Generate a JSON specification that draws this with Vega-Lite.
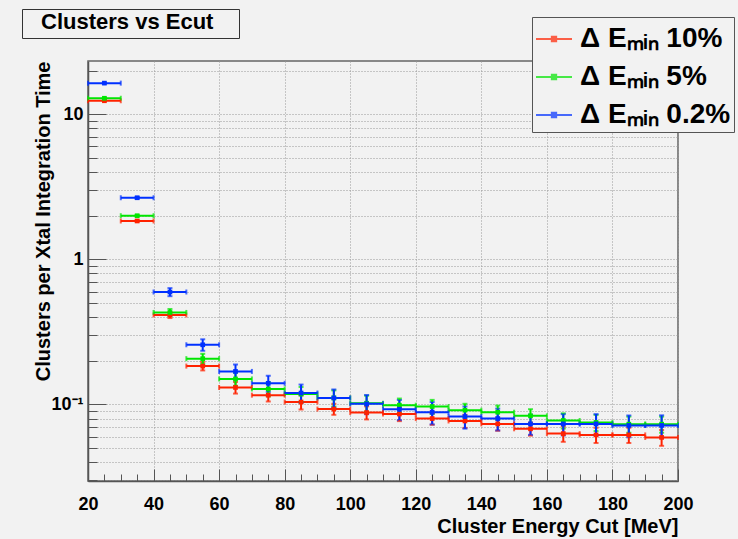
{
  "$schema": "https://vega.github.io/schema/vega-lite/v6.json",
  "width": 590,
  "height": 420,
  "autosize": "none",
  "padding": {"left": 88, "top": 61, "right": 60, "bottom": 58},
  "background": "#f2f2f2",
  "config": {
    "font": "Liberation Sans",
    "view": {"stroke": "#666", "strokeWidth": 1.5},
    "axis": {"labelColor": "black", "titleColor": "black", "tickColor": "#555", "domainColor": "#555", "gridColor": "#999", "gridDash": [1, 2], "gridWidth": 1, "labelFlush": false, "labelOverlap": false}
  },
  "data": {"values": [
    {"s": "10%", "e": 25, "v": 12.4, "err": 0.099, "xe": 5},
    {"s": "10%", "e": 35, "v": 1.84, "err": 0.02, "xe": 5},
    {"s": "10%", "e": 45, "v": 0.414, "err": 0.0197, "xe": 5},
    {"s": "10%", "e": 55, "v": 0.184, "err": 0.0123, "xe": 5},
    {"s": "10%", "e": 65, "v": 0.131, "err": 0.0121, "xe": 5},
    {"s": "10%", "e": 75, "v": 0.116, "err": 0.0111, "xe": 5},
    {"s": "10%", "e": 85, "v": 0.104, "err": 0.0116, "xe": 5},
    {"s": "10%", "e": 95, "v": 0.093, "err": 0.0081, "xe": 5},
    {"s": "10%", "e": 105, "v": 0.088, "err": 0.0091, "xe": 5},
    {"s": "10%", "e": 115, "v": 0.086, "err": 0.0092, "xe": 5},
    {"s": "10%", "e": 125, "v": 0.08, "err": 0.0076, "xe": 5},
    {"s": "10%", "e": 135, "v": 0.077, "err": 0.008, "xe": 5},
    {"s": "10%", "e": 145, "v": 0.0735, "err": 0.0076, "xe": 5},
    {"s": "10%", "e": 155, "v": 0.068, "err": 0.007, "xe": 5},
    {"s": "10%", "e": 165, "v": 0.063, "err": 0.0077, "xe": 5},
    {"s": "10%", "e": 175, "v": 0.0617, "err": 0.0074, "xe": 5},
    {"s": "10%", "e": 185, "v": 0.0617, "err": 0.0074, "xe": 5},
    {"s": "10%", "e": 195, "v": 0.0593, "err": 0.0074, "xe": 5},
    {"s": "5%", "e": 25, "v": 12.9, "err": 0.103, "xe": 5},
    {"s": "5%", "e": 35, "v": 2.0, "err": 0.022, "xe": 5},
    {"s": "5%", "e": 45, "v": 0.431, "err": 0.024, "xe": 5},
    {"s": "5%", "e": 55, "v": 0.207, "err": 0.0165, "xe": 5},
    {"s": "5%", "e": 65, "v": 0.15, "err": 0.0155, "xe": 5},
    {"s": "5%", "e": 75, "v": 0.128, "err": 0.0142, "xe": 5},
    {"s": "5%", "e": 85, "v": 0.118, "err": 0.0141, "xe": 5},
    {"s": "5%", "e": 95, "v": 0.111, "err": 0.0141, "xe": 5},
    {"s": "5%", "e": 105, "v": 0.102, "err": 0.013, "xe": 5},
    {"s": "5%", "e": 115, "v": 0.0989, "err": 0.011, "xe": 5},
    {"s": "5%", "e": 125, "v": 0.0968, "err": 0.0108, "xe": 5},
    {"s": "5%", "e": 135, "v": 0.0914, "err": 0.0097, "xe": 5},
    {"s": "5%", "e": 145, "v": 0.0885, "err": 0.0098, "xe": 5},
    {"s": "5%", "e": 155, "v": 0.0835, "err": 0.0093, "xe": 5},
    {"s": "5%", "e": 165, "v": 0.0776, "err": 0.0093, "xe": 5},
    {"s": "5%", "e": 175, "v": 0.0752, "err": 0.0096, "xe": 5},
    {"s": "5%", "e": 185, "v": 0.0732, "err": 0.0093, "xe": 5},
    {"s": "5%", "e": 195, "v": 0.0732, "err": 0.0093, "xe": 5},
    {"s": "0.2%", "e": 25, "v": 16.4, "err": 0.13, "xe": 5},
    {"s": "0.2%", "e": 35, "v": 2.66, "err": 0.034, "xe": 5},
    {"s": "0.2%", "e": 45, "v": 0.596, "err": 0.038, "xe": 5},
    {"s": "0.2%", "e": 55, "v": 0.258, "err": 0.0234, "xe": 5},
    {"s": "0.2%", "e": 65, "v": 0.169, "err": 0.0196, "xe": 5},
    {"s": "0.2%", "e": 75, "v": 0.14, "err": 0.0178, "xe": 5},
    {"s": "0.2%", "e": 85, "v": 0.12, "err": 0.0172, "xe": 5},
    {"s": "0.2%", "e": 95, "v": 0.111, "err": 0.0159, "xe": 5},
    {"s": "0.2%", "e": 105, "v": 0.101, "err": 0.0153, "xe": 5},
    {"s": "0.2%", "e": 115, "v": 0.0927, "err": 0.0147, "xe": 5},
    {"s": "0.2%", "e": 125, "v": 0.0885, "err": 0.0155, "xe": 5},
    {"s": "0.2%", "e": 135, "v": 0.0826, "err": 0.0144, "xe": 5},
    {"s": "0.2%", "e": 145, "v": 0.08, "err": 0.0137, "xe": 5},
    {"s": "0.2%", "e": 155, "v": 0.0735, "err": 0.0117, "xe": 5},
    {"s": "0.2%", "e": 165, "v": 0.0735, "err": 0.0123, "xe": 5},
    {"s": "0.2%", "e": 175, "v": 0.0735, "err": 0.0123, "xe": 5},
    {"s": "0.2%", "e": 185, "v": 0.0717, "err": 0.0123, "xe": 5},
    {"s": "0.2%", "e": 195, "v": 0.0717, "err": 0.0125, "xe": 5}
  ]},
  "resolve": {"scale": {"x": "independent", "y": "independent"}, "axis": {"x": "independent", "y": "independent"}},
  "layer": [
    {
      "mark": {"type": "errorbar", "ticks": {"size": 5}, "thickness": 2},
      "encoding": {
        "x": {"field": "e", "type": "quantitative", "scale": {"domain": [20, 200], "nice": false, "zero": false},
          "axis": {"orient": "bottom", "values": [20, 40, 60, 80, 100, 120, 140, 160, 180, 200], "ticks": false, "grid": true, "labelFontSize": 18, "labelFontWeight": "bold", "labelPadding": 14, "domainWidth": 1.5, "title": "Cluster Energy Cut [MeV]", "titleAnchor": "end", "titleFontSize": 20, "titleFontWeight": "bold", "titleY": 45, "titleBaseline": "middle"}},
        "xError": {"field": "xe"},
        "y": {"field": "v", "type": "quantitative", "scale": {"type": "log", "domain": [0.0297, 23.3], "nice": false},
          "axis": {"orient": "left", "values": [0.1, 1, 10], "ticks": false, "grid": false, "labelExpr": "datum.value > 5 ? '10' : datum.value > 0.5 ? '1' : '10⁻¹'", "labelFontSize": 18, "labelFontWeight": "bold", "labelPadding": 5, "domainWidth": 1.5, "title": "Clusters per Xtal Integration Time", "titleAnchor": "end", "titleX": -45, "titleBaseline": "middle", "titleFontSize": 20, "titleFontWeight": "bold"}},
        "color": {"field": "s", "type": "nominal", "sort": ["10%", "5%", "0.2%"],
          "scale": {"domain": ["10%", "5%", "0.2%"], "range": ["#ff2200", "#00e600", "#0030ff"]},
          "legend": {"title": null, "orient": "none", "legendX": 444, "legendY": -44, "labelExpr": "'Δ Eₘᵢₙ ' + datum.label", "symbolType": "M-1,0L1,0M-0.12,-0.12L0.12,-0.12L0.12,0.12L-0.12,0.12Z", "symbolSize": 1296, "symbolStrokeWidth": 2, "labelFontSize": 28, "labelFontWeight": "bold", "labelColor": "black", "labelOffset": 7, "rowPadding": 5, "padding": 3, "strokeColor": "#555", "fillColor": "#f2f2f2", "labelLimit": 300}}
      }
    },
    {
      "mark": {"type": "errorbar", "ticks": {"size": 5}, "thickness": 2},
      "encoding": {
        "x": {"field": "e", "type": "quantitative", "scale": {"domain": [20, 200], "nice": false, "zero": false},
          "axis": {"orient": "bottom", "values": [25, 30, 35, 45, 50, 55, 65, 70, 75, 85, 90, 95, 105, 110, 115, 125, 130, 135, 145, 150, 155, 165, 170, 175, 185, 190, 195], "tickSize": -7, "labels": false, "domain": false, "grid": false, "title": null}},
        "y": {"field": "v", "type": "quantitative", "scale": {"type": "log", "domain": [0.0297, 23.3], "nice": false},
          "axis": {"orient": "left", "values": [0.03, 0.04, 0.05, 0.06, 0.07, 0.08, 0.09, 0.2, 0.3, 0.4, 0.5, 0.6, 0.7, 0.8, 0.9, 2, 3, 4, 5, 6, 7, 8, 9, 20], "tickSize": -9, "labels": false, "domain": false, "grid": true, "title": null}},
        "yError": {"field": "err"},
        "color": {"field": "s", "type": "nominal", "sort": ["10%", "5%", "0.2%"],
          "scale": {"domain": ["10%", "5%", "0.2%"], "range": ["#ff2200", "#00e600", "#0030ff"]},
          "legend": {"title": null, "orient": "none", "legendX": 444, "legendY": -44, "labelExpr": "'Δ Eₘᵢₙ ' + datum.label", "symbolType": "M-1,0L1,0M-0.12,-0.12L0.12,-0.12L0.12,0.12L-0.12,0.12Z", "symbolSize": 1296, "symbolStrokeWidth": 2, "labelFontSize": 28, "labelFontWeight": "bold", "labelColor": "black", "labelOffset": 7, "rowPadding": 5, "padding": 3, "strokeColor": "#555", "fillColor": "#f2f2f2", "labelLimit": 300}}
      }
    },
    {
      "mark": {"type": "point", "shape": "square", "filled": true, "size": 22, "opacity": 1},
      "encoding": {
        "x": {"field": "e", "type": "quantitative", "scale": {"domain": [20, 200], "nice": false, "zero": false},
          "axis": {"orient": "bottom", "values": [20, 40, 60, 80, 100, 120, 140, 160, 180, 200], "tickSize": -12, "labels": false, "domain": false, "grid": false, "title": null}},
        "y": {"field": "v", "type": "quantitative", "scale": {"type": "log", "domain": [0.0297, 23.3], "nice": false},
          "axis": {"orient": "left", "values": [0.1, 1, 10], "tickSize": -18, "labels": false, "domain": false, "grid": true, "title": null}},
        "shape": {"datum": "box", "scale": {"domain": ["box"], "range": ["square"]},
          "legend": {"title": "\u2800Clusters vs Ecut \u2800", "orient": "none", "legendX": -66, "legendY": -52, "titleFontSize": 22, "titleFontWeight": "bold", "titleColor": "black", "titleFont": "Liberation Sans", "titleLimit": 400, "titlePadding": 0, "padding": 3, "strokeColor": "#333", "fillColor": "#f2f2f2", "symbolSize": 0, "symbolOpacity": 0, "symbolStrokeWidth": 0, "labelExpr": "''", "labelFontSize": 1, "rowPadding": 0}},
        "color": {"field": "s", "type": "nominal", "sort": ["10%", "5%", "0.2%"],
          "scale": {"domain": ["10%", "5%", "0.2%"], "range": ["#ff2200", "#00e600", "#0030ff"]},
          "legend": {"title": null, "orient": "none", "legendX": 444, "legendY": -44, "labelExpr": "'Δ Eₘᵢₙ ' + datum.label", "symbolType": "M-1,0L1,0M-0.12,-0.12L0.12,-0.12L0.12,0.12L-0.12,0.12Z", "symbolSize": 1296, "symbolStrokeWidth": 2, "labelFontSize": 28, "labelFontWeight": "bold", "labelColor": "black", "labelOffset": 7, "rowPadding": 5, "padding": 3, "strokeColor": "#555", "fillColor": "#f2f2f2", "labelLimit": 300}}
      }
    }
  ]
}
